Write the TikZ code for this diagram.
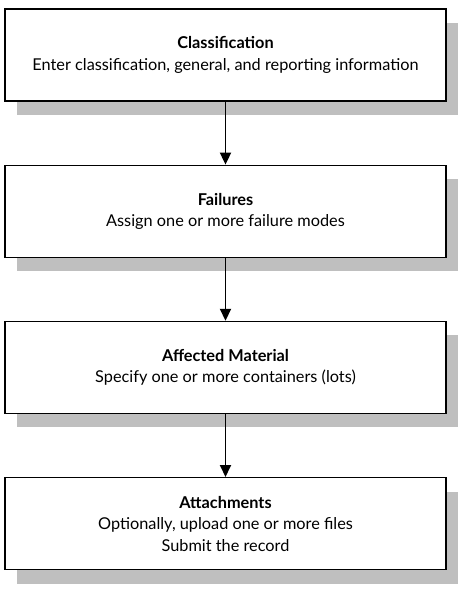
\documentclass[tikz,border=0pt]{standalone}
\usepackage{fontspec}
\setmainfont{Lato}
\usetikzlibrary{positioning,shadows,arrows.meta}
\tikzset{
  stepbox/.style={draw, line width=1.2pt, fill=white, minimum width=441pt, minimum height=92pt,
    align=center, font=\fontsize{16.3}{21.5}\selectfont,
    drop shadow={shadow xshift=12pt, shadow yshift=-14pt, fill=black!25, opacity=1}},
  flow/.style={line width=1.8pt, -{Triangle[width=11pt,length=12pt]}}
}
\begin{document}
\begin{tikzpicture}[x=1pt,y=1pt]
			\useasboundingbox (0,0) rectangle (463,-589);
			\node[stepbox] (cls) at (225.5,-55) {\textbf{Classification}\\Enter classification, general, and reporting information};
			\node[stepbox, below=63pt of cls] (fail) {\textbf{Failures}\\Assign one or more failure modes};
			\node[stepbox, below=63pt of fail] (mat) {\textbf{Affected Material}\\Specify one or more containers (lots)};
			\node[stepbox, below=63pt of mat] (att) {\textbf{Attachments}\\Optionally, upload one or more files\\Submit the record};
			\draw[flow] (cls.south) -- (fail.north);
			\draw[flow] (fail.south) -- (mat.north);
			\draw[flow] (mat.south) -- (att.north);
		\end{tikzpicture}
\end{document}
